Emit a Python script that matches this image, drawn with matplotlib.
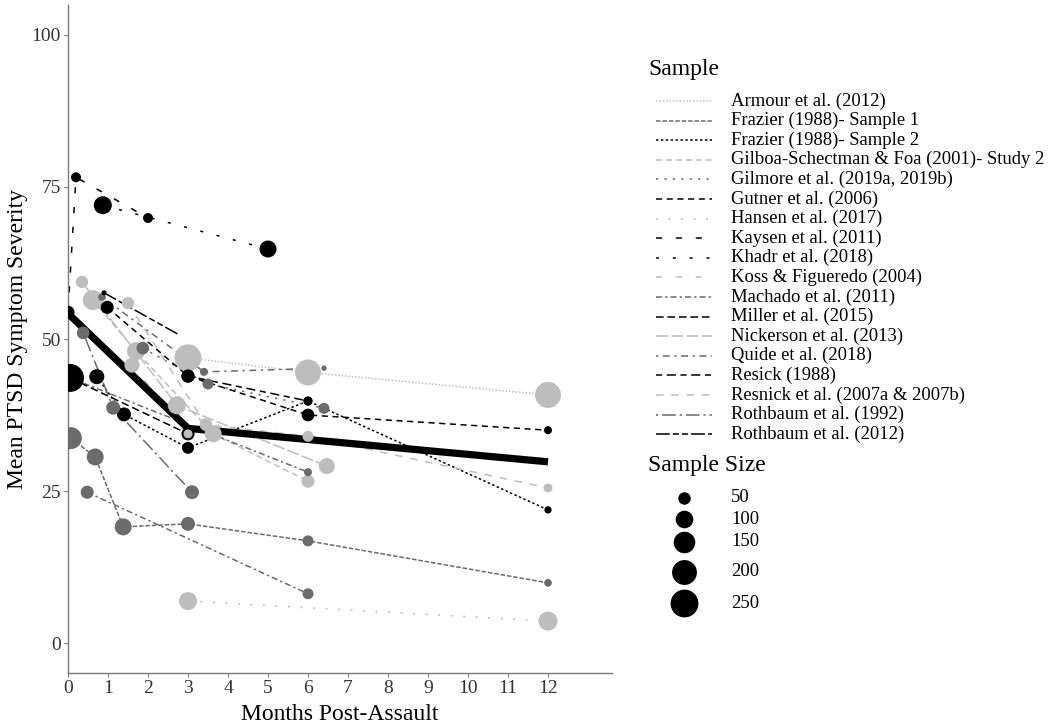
import matplotlib
matplotlib.use("Agg")
import matplotlib.pyplot as plt
from matplotlib.lines import Line2D
import numpy as np

plt.rcParams['font.family'] = ['Liberation Serif', 'DejaVu Serif']

# ---------------- data ----------------
studies = [
    "Armour et al. (2012)",
    "Frazier (1988)- Sample 1",
    "Frazier (1988)- Sample 2",
    "Gilboa-Schectman & Foa (2001)- Study 2",
    "Gilmore et al. (2019a, 2019b)",
    "Gutner et al. (2006)",
    "Hansen et al. (2017)",
    "Kaysen et al. (2011)",
    "Khadr et al. (2018)",
    "Koss & Figueredo (2004)",
    "Machado et al. (2011)",
    "Miller et al. (2015)",
    "Nickerson et al. (2013)",
    "Quide et al. (2018)",
    "Resick (1988)",
    "Resnick et al. (2007a & 2007b)",
    "Rothbaum et al. (1992)",
    "Rothbaum et al. (2012)",
]

study_shade = ["light", "dark", "black", "light", "dark", "black", "light", "black", "black",
               "light", "dark", "black", "light", "dark", "black", "light", "dark", "black"]

months = [
    [3, 6, 12],                     # Armour
    [0.07, 0.68, 1.38, 3, 6, 12],   # Frazier S1
    [0.72, 1.4, 3, 6, 12],          # Frazier S2
    [0.62, 1.7, 3.63, 6],           # Gilboa
    [1.87, 3.5, 6.4],               # Gilmore
    [0.98, 3, 6, 12],               # Gutner
    [3, 12],                        # Hansen
    [0, 0.2, 2],                    # Kaysen
    [0.87, 5],                      # Khadr
    [1.6, 3],                       # Koss
    [0.05, 6],                      # Machado
    [0.05, 3],                      # Miller
    [0.35, 2.72, 6.47],             # Nickerson
    [0.85, 3.4, 6.4],               # Quide
    [3, 6],                         # Resick
    [1.5, 3.45, 6, 12],             # Resnick
    [0.38, 1.13, 3.1],              # Rothbaum 1992
    [0.9, 2.8],                     # Rothbaum 2012
]

severity = [
    [46.9, 44.5, 40.8],
    [33.7, 30.6, 19.1, 19.6, 16.8, 9.9],
    [43.8, 37.6, 32.1, 39.8, 21.9],
    [56.4, 48.0, 34.4, 26.6],
    [48.5, 42.6, 38.6],
    [55.2, 43.9, 37.5, 35.0],
    [6.9, 3.6],
    [54.4, 76.6, 69.9],
    [72.0, 64.8],
    [45.7, 34.4],
    [43.6, 28.1],
    [43.6, 34.4],
    [59.4, 39.1, 29.1],
    [56.9, 44.6, 45.2],
    [43.9, 39.8],
    [55.9, 35.9, 34.0, 25.5],
    [51.0, 38.7, 24.8],
    [57.6, 50.6],
]

sample_n = [
    [235, 218, 218],
    [156, 93, 93, 63, 39, 19],
    [73, 63, 46, 26, 17],
    [129, 105, 93, 55],
    [52, 39, 39],
    [55, 55, 52, 21],
    [105, 117],
    [55, 32, 32],
    [105, 93],
    [73, 26],
    [0, 21],
    [253, 55],
    [49, 105, 83],
    [19, 21, 9],
    [55, 26],
    [49, 52, 39, 26],
    [52, 63, 63],
    [8, 0],
]

# second Machado et al. cohort (lower trajectory)
machado_b_months = [0.48, 6]
machado_b_severity = [24.8, 8.1]
machado_b_n = [55, 39]

overall_months = [0, 3, 12]
overall_severity = [54.2, 35.3, 29.8]

legend_sizes = [50, 100, 150, 200, 250]
x_ticks = list(range(0, 13))
y_ticks = [0, 25, 50, 75, 100]

# ---------------- styles ----------------
shade_color = {"black": "#000000", "dark": "#6b6b6b", "light": "#bdbdbd"}
dashes = [
    (0, (1, 1.2)),
    (0, (3, 1.2)),
    (0, (1.6, 1.6)),
    (0, (4, 2.5)),
    (0, (1.5, 4)),
    (0, (4, 3)),
    (0, (1.2, 7)),
    (0, (4, 9)),
    (0, (2, 9)),
    (0, (4, 9)),
    (0, (4, 2, 1.5, 2)),
    (0, (5, 2.5)),
    (0, (8, 2)),
    (0, (1.5, 3, 4.5, 3)),
    (0, (4, 3, 6, 3)),
    (0, (5, 5)),
    (0, (1.5, 2.5, 9, 2.5)),
    (0, (9, 2, 4, 2, 4, 2)),
]
LW = 1.1
PX_PER_PT = 100 / 72.0
MACHADO = 10


def marker_area(n):
    d_px = 1.76 * np.sqrt(np.asarray(n, dtype=float))
    return (d_px / PX_PER_PT) ** 2


fig = plt.figure(figsize=(10.5, 7.24), dpi=100)
W, H = 1050.0, 724.0
ax = fig.add_axes([68 / W, 1 - 673 / H, (612 - 68) / W, (673 - 5) / H])
ax.set_xlim(0, 13.6)
ax.set_ylim(-4.93, 104.93)

for i, s in enumerate(studies):
    c = shade_color[study_shade[i]]
    ax.plot(months[i], severity[i], color=c, lw=LW, linestyle=dashes[i], zorder=2,
            dash_capstyle='butt')
ax.plot(machado_b_months, machado_b_severity, color=shade_color[study_shade[MACHADO]],
        lw=LW, linestyle=dashes[MACHADO], zorder=2, dash_capstyle='butt')

ax.plot(overall_months, overall_severity, color="black", lw=5.2, zorder=3,
        solid_capstyle='butt')

# points: larger ones first so that small ones stay visible
px, py, pn, pc = [], [], [], []
for i in range(len(studies)):
    px += months[i]
    py += severity[i]
    pn += sample_n[i]
    pc += [shade_color[study_shade[i]]] * len(months[i])
px += machado_b_months
py += machado_b_severity
pn += machado_b_n
pc += [shade_color[study_shade[MACHADO]]] * len(machado_b_months)
order = np.argsort(-np.asarray(pn), kind="stable")
ax.scatter(np.asarray(px)[order], np.asarray(py)[order],
           s=marker_area(np.asarray(pn)[order]),
           color=[pc[k] for k in order], edgecolors='none', zorder=4)

for side in ["top", "right"]:
    ax.spines[side].set_visible(False)
for side in ["left", "bottom"]:
    ax.spines[side].set_color("#7a7a7a")
    ax.spines[side].set_linewidth(1.0)

ax.set_xticks(x_ticks)
ax.set_yticks(y_ticks)
ax.tick_params(axis='both', colors="#7a7a7a", length=3, width=0.8, labelsize=14,
               labelcolor="#333333", pad=2)
ax.set_xlabel("Months Post-Assault", fontsize=17, color="black", labelpad=5)
ax.set_ylabel("Mean PTSD Symptom Severity", fontsize=17, color="black", labelpad=3)

# ---------------- legends ----------------
def fx(px_):
    return px_ / W


def fy(py_):
    return 1 - py_ / H


fig.text(fx(648), fy(70), "Sample", fontsize=17, va='center', ha='left')
y0, dy = 101, 19.6
for i, s in enumerate(studies):
    yy = y0 + i * dy
    fig.add_artist(Line2D([fx(656), fx(712)], [fy(yy), fy(yy)], transform=fig.transFigure,
                          color=shade_color[study_shade[i]], lw=LW, linestyle=dashes[i],
                          dash_capstyle='butt'))
    fig.text(fx(731), fy(yy), s, fontsize=13.4, va='center', ha='left')

fig.text(fx(648), fy(465), "Sample Size", fontsize=17, va='center', ha='left')
size_y = [498, 519, 542, 572, 603]
for n, yy in zip(legend_sizes, size_y):
    d_px = 1.76 * np.sqrt(n)
    fig.add_artist(Line2D([fx(684)], [fy(yy)], transform=fig.transFigure, marker='o',
                          markersize=d_px / PX_PER_PT, color='black', markeredgewidth=0,
                          linestyle='none'))
    fig.text(fx(731), fy(yy), str(n), fontsize=13.4, va='center', ha='left')

fig.savefig("out.png", dpi=100)
